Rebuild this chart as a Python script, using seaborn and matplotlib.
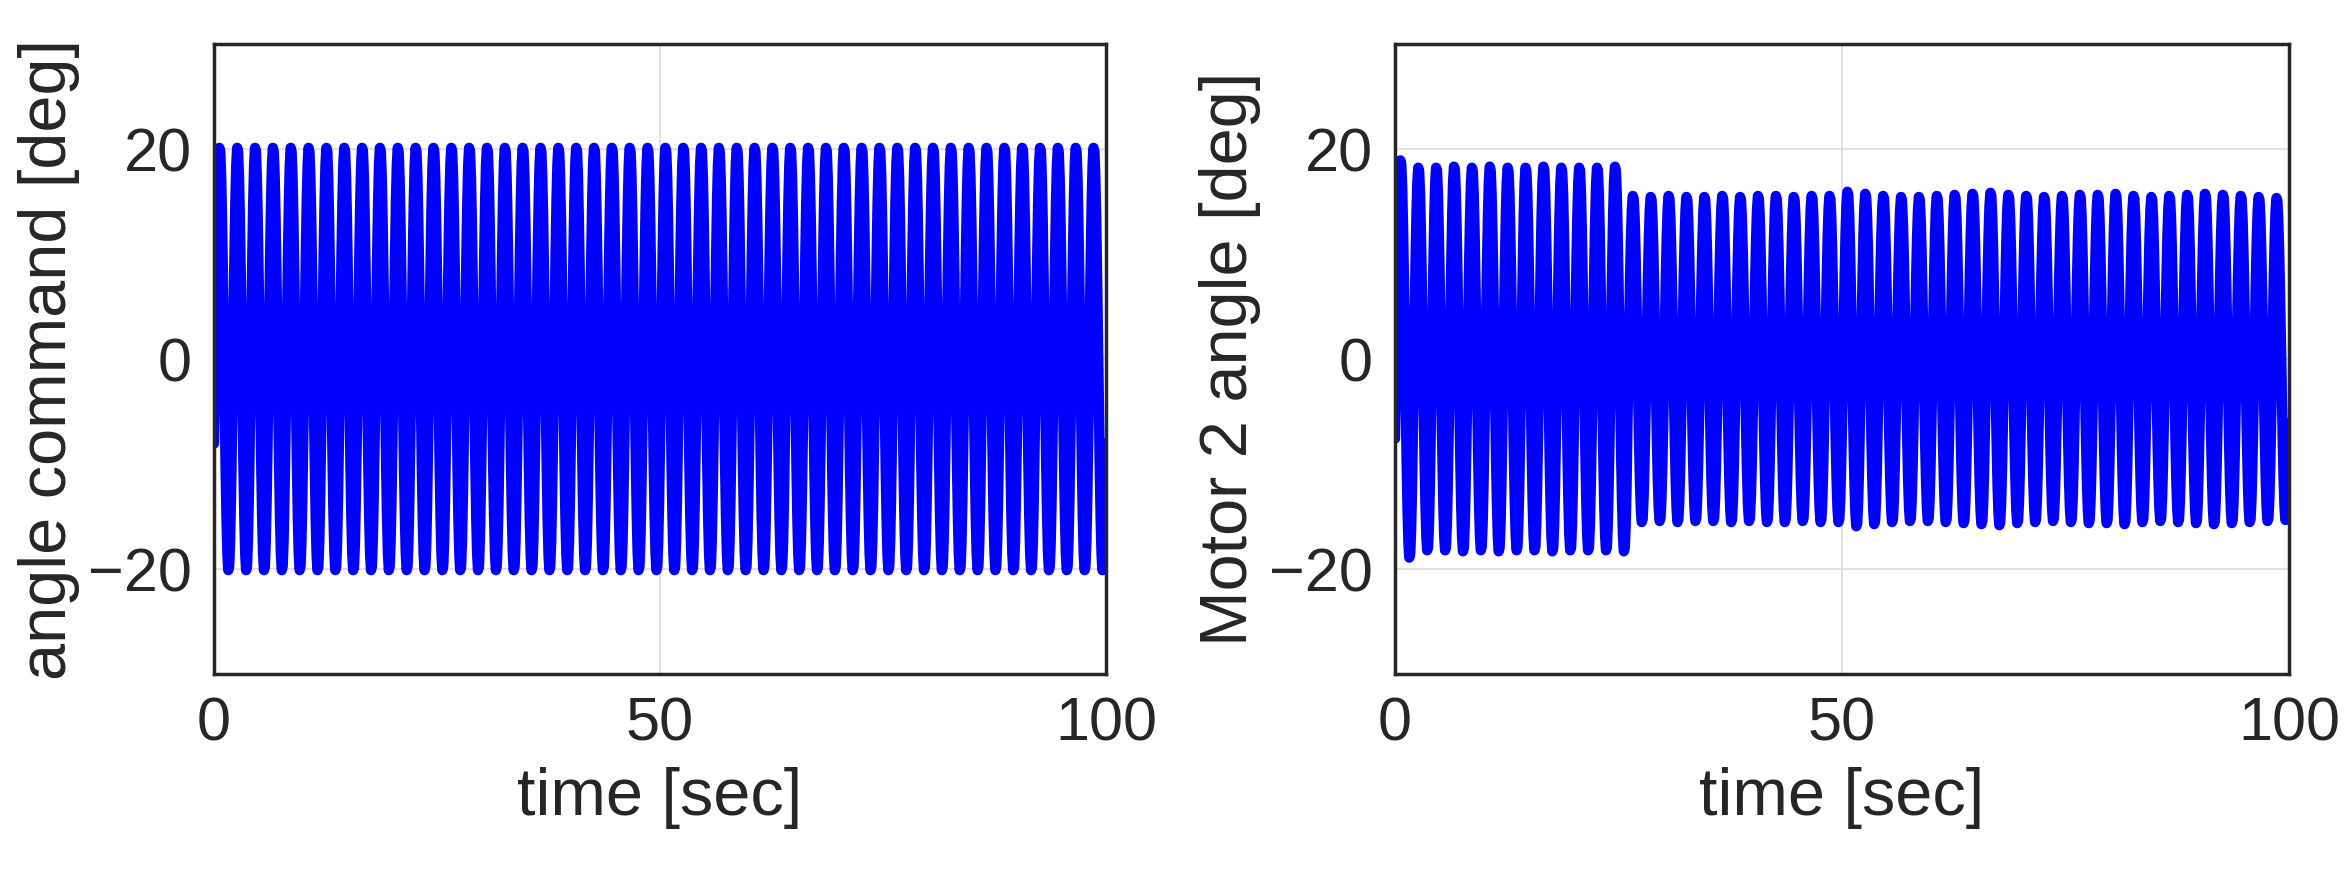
import numpy as np
import pandas as pd
import matplotlib
matplotlib.use("Agg")
import matplotlib.pyplot as plt
import seaborn as sns

# ---- data ----
freq_hz = 0.5          # 2 s period, 50 cycles in 100 s
dt = 0.1
phase0 = -0.41
cmd_amp = [20.2] * 50
motor_amp = [19.0, 18.3, 18.3, 18.4, 18.3, 18.4, 18.3, 18.3, 18.4, 18.3, 18.3, 18.3, 18.4,
             15.6, 15.5, 15.6, 15.5, 15.5, 15.6, 15.5, 15.6, 15.6, 15.5, 15.6, 15.6, 16.0,
             15.8, 15.6, 15.5, 15.5, 15.6, 15.7, 15.8, 15.9, 15.7, 15.6, 15.5, 15.6, 15.7,
             15.7, 15.8, 15.6, 15.5, 15.6, 15.7, 15.8, 15.7, 15.6, 15.5, 15.4]
xticks = [0, 50, 100]
yticks = [-20, 0, 20]

t = np.round(np.arange(0, 100 + dt / 2, dt), 6)
cyc = np.minimum((t * freq_hz).astype(int), 49)
base = np.sin(2 * np.pi * freq_hz * t + phase0)
df = pd.DataFrame({"t": t,
                   "cmd": np.array(cmd_amp)[cyc] * base,
                   "motor": np.array(motor_amp)[cyc] * base})

sns.set_theme(style="white")
plt.rcParams["font.family"] = ["Liberation Sans", "DejaVu Sans"]
fig = plt.figure(figsize=(23.51, 8.82), dpi=100)
axes = [fig.add_axes([214/2351, 1-674/882, 892/2351, 630/882]),
        fig.add_axes([1395/2351, 1-674/882, 894/2351, 630/882])]
for ax, col, lab in zip(axes, ["cmd", "motor"], ["angle command [deg]", "Motor 2 angle [deg]"]):
    sns.lineplot(data=df, x="t", y=col, ax=ax, color="#0000ff", lw=7.5,
                 estimator=None, sort=False)
    ax.set_xlim(0, 100)
    ax.set_ylim(-30, 30)
    ax.set_xticks(xticks)
    ax.set_yticks(yticks)
    ax.set_xticklabels(["0", "50", "100"])
    ax.set_yticklabels(["\u221220", "0", "20"])
    ax.grid(True, color="#dcdcdc", lw=1.2)
    ax.set_axisbelow(True)
    ax.tick_params(direction="in", labelsize=44, length=10, width=2.5, color="#262626",
                   labelcolor="#262626", pad=16)
    for s in ax.spines.values():
        s.set_color("#262626")
        s.set_linewidth(2.5)
    ax.set_xlabel("time [sec]", fontsize=48, color="#262626", labelpad=10)
    ax.set_ylabel(lab, fontsize=48, color="#262626", labelpad=6)
fig.savefig("out.png", dpi=100)
